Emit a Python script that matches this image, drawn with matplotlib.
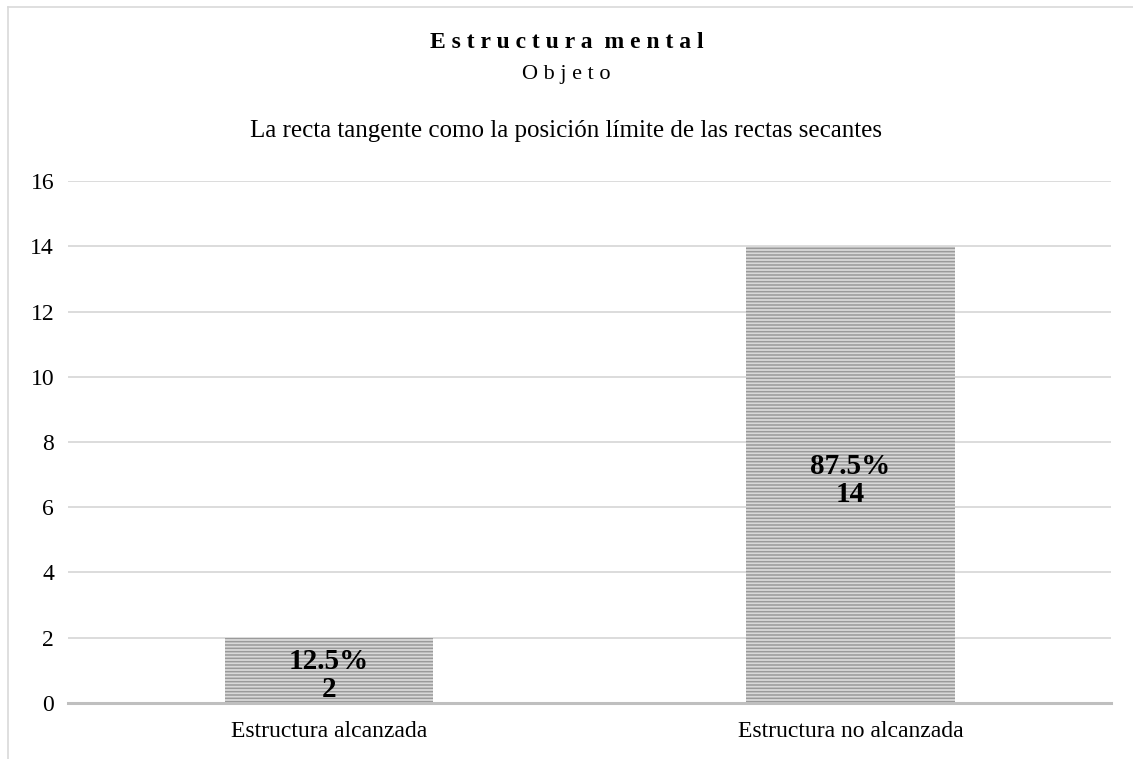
import matplotlib.pyplot as plt
from matplotlib.lines import Line2D

categories = ["Estructura alcanzada", "Estructura no alcanzada"]
counts = [2, 14]
percents = ["12.5%", "87.5%"]
yticks = [0, 2, 4, 6, 8, 10, 12, 14, 16]

plt.rcParams['font.family'] = ['Liberation Serif', 'DejaVu Serif']
plt.rcParams['hatch.linewidth'] = 1.1
plt.rcParams['hatch.color'] = '#9a9a9a'

fig = plt.figure(figsize=(11.33, 7.59), dpi=100)
ax = fig.add_axes([0.060, 0.0738, 0.921, 0.6877])

x = range(len(categories))
ax.bar(x, counts, width=0.4, color='#d9d9d9', edgecolor='#9a9a9a',
       hatch='-----', linewidth=0, zorder=2)

for i in x:
    ax.annotate(percents[i] + "\n" + str(counts[i]), (i, counts[i] / 2),
                xytext=(0, -4), textcoords='offset points',
                ha='center', va='center', fontsize=21, fontweight='bold',
                linespacing=1.05, zorder=3)

ax.set_xlim(-0.5, 1.5)
ax.set_ylim(0, 16)
ax.set_yticks(yticks)
ax.set_xticks(list(x))
ax.set_xticklabels(categories, fontsize=17)
ax.tick_params(axis='both', length=0, labelsize=17)
ax.tick_params(axis='x', pad=13)
ax.tick_params(axis='y', pad=10)
ax.grid(axis='y', color='#d9d9d9', linewidth=1.3, zorder=0)
for s in ['top', 'right', 'left']:
    ax.spines[s].set_visible(False)
ax.spines['bottom'].set_color('#bfbfbf')
ax.spines['bottom'].set_linewidth(2.2)
ax.spines['bottom'].set_zorder(4)

# letter-spaced titles
fig.text(0.5, 1 - 42 / 759, "  ".join(" ".join(w) for w in "Estructura mental".split()),
         ha='center', va='center', fontsize=17, fontweight='bold')
fig.text(0.5, 1 - 75 / 759, " ".join("Objeto"),
         ha='center', va='center', fontsize=16)
fig.text(0.5, 1 - 131 / 759, "La recta tangente como la posición límite de las rectas secantes",
         ha='center', va='center', fontsize=18)

# outer frame (left and top edges visible)
fig.add_artist(Line2D([8 / 1133, 8 / 1133], [0, 1 - 7 / 759], transform=fig.transFigure,
                      color='#d9d9d9', linewidth=1.2))
fig.add_artist(Line2D([8 / 1133, 1], [1 - 7 / 759, 1 - 7 / 759], transform=fig.transFigure,
                      color='#d9d9d9', linewidth=1.2))

fig.savefig("out.png", dpi=100)
